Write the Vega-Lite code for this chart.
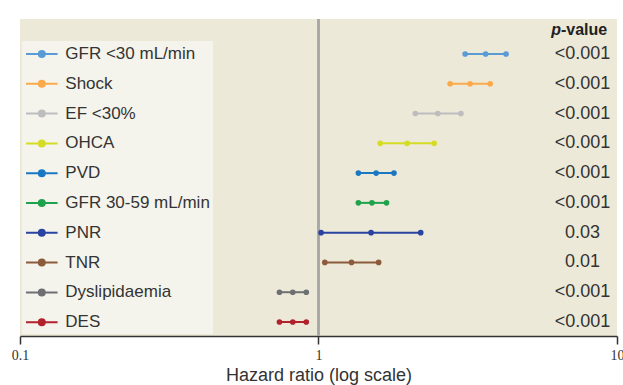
{
  "$schema": "https://vega.github.io/schema/vega-lite/v6.json",
  "width": 597,
  "height": 317,
  "autosize": {"type": "none"},
  "padding": {"left": 20, "top": 19, "right": 6, "bottom": 49},
  "background": "#ffffff",
  "config": {
    "view": {"fill": "#ece9d8", "stroke": null},
    "font": "Liberation Sans"
  },
  "data": {
    "values": [
      {"factor": "GFR <30 mL/min", "lo": 3.10, "est": 3.63, "hi": 4.25, "p": "<0.001"},
      {"factor": "Shock", "lo": 2.76, "est": 3.22, "hi": 3.76, "p": "<0.001"},
      {"factor": "EF <30%", "lo": 2.11, "est": 2.51, "hi": 3.00, "p": "<0.001"},
      {"factor": "OHCA", "lo": 1.61, "est": 1.98, "hi": 2.44, "p": "<0.001"},
      {"factor": "PVD", "lo": 1.36, "est": 1.56, "hi": 1.79, "p": "<0.001"},
      {"factor": "GFR 30-59 mL/min", "lo": 1.36, "est": 1.51, "hi": 1.69, "p": "<0.001"},
      {"factor": "PNR", "lo": 1.02, "est": 1.50, "hi": 2.20, "p": "0.03"},
      {"factor": "TNR", "lo": 1.05, "est": 1.29, "hi": 1.59, "p": "0.01"},
      {"factor": "Dyslipidaemia", "lo": 0.74, "est": 0.82, "hi": 0.91, "p": "<0.001"},
      {"factor": "DES", "lo": 0.74, "est": 0.82, "hi": 0.91, "p": "<0.001"}
    ]
  },
  "encoding": {
    "y": {
      "field": "factor",
      "type": "ordinal",
      "scale": {
        "type": "point",
        "domain": ["GFR <30 mL/min", "Shock", "EF <30%", "OHCA", "PVD", "GFR 30-59 mL/min", "PNR", "TNR", "Dyslipidaemia", "DES"],
        "padding": 0.8225,
        "align": 0.714,
        "round": false
      },
      "axis": null
    }
  },
  "layer": [
    {
      "mark": {"type": "rule", "color": "#a6a6a6", "strokeWidth": 1.5},
      "encoding": {
        "x": {"datum": 1, "type": "quantitative"},
        "y": null
      }
    },
    {
      "mark": {"type": "rule", "strokeWidth": 2},
      "encoding": {
        "x": {"field": "lo", "type": "quantitative"},
        "x2": {"field": "hi"},
        "color": {"field": "factor", "type": "nominal"}
      }
    },
    {
      "transform": [{"fold": ["lo", "est", "hi"], "as": ["kind", "hr"]}],
      "mark": {"type": "point", "filled": true, "opacity": 1, "size": 32},
      "encoding": {
        "x": {
          "field": "hr",
          "type": "quantitative",
          "scale": {"type": "log", "domain": [0.1, 10], "nice": false},
          "axis": {
            "values": [0.1, 1, 10],
            "format": "~g",
            "grid": false,
            "title": "Hazard ratio (log scale)",
            "titleFont": "Liberation Sans",
            "titleFontSize": 18,
            "titleFontWeight": "normal",
            "titleColor": "#333333",
            "titlePadding": 4,
            "labelFont": "Liberation Serif",
            "labelFontSize": 14,
            "labelColor": "#333333",
            "labelFlush": false,
            "labelPadding": 4,
            "tickSize": 8,
            "tickColor": "#333333",
            "tickWidth": 1.5,
            "domainColor": "#333333",
            "domainWidth": 1.5
          }
        },
        "color": {
          "field": "factor",
          "type": "nominal",
          "scale": {
            "domain": ["GFR <30 mL/min", "Shock", "EF <30%", "OHCA", "PVD", "GFR 30-59 mL/min", "PNR", "TNR", "Dyslipidaemia", "DES"],
            "range": ["#5b9bd5", "#fbaa4b", "#bdbdc0", "#d5dc26", "#1a78c2", "#1ea24c", "#2b43a0", "#8c5b3b", "#6e6f73", "#b2222c"]
          },
          "legend": {
            "title": null,
            "orient": "none",
            "legendX": 2,
            "legendY": 22,
            "fillColor": "#f5f4ec",
            "padding": 3,
            "rowPadding": 11.8,
            "symbolType": "M-1,0H2.51M0.423,0a0.333,0.333 0 1,0 0.666,0a0.333,0.333 0 1,0 -0.666,0Z",
            "symbolSize": 324,
            "symbolStrokeWidth": 2,
            "labelFont": "Liberation Sans",
            "labelFontSize": 17,
            "labelColor": "#333333",
            "labelOffset": 20.3,
            "labelLimit": 300
          }
        }
      }
    },
    {
      "mark": {"type": "text", "font": "Liberation Sans", "fontSize": 18, "color": "#333333", "align": "center", "baseline": "middle"},
      "encoding": {
        "x": {"datum": 7.66, "type": "quantitative"},
        "text": {"field": "p"}
      }
    },
    {
      "transform": [{"filter": "datum.factor === 'GFR <30 mL/min'"}],
      "mark": {"type": "text", "text": "p", "font": "Liberation Sans", "fontSize": 16, "fontWeight": "bold", "fontStyle": "italic", "color": "#222222", "align": "right", "baseline": "middle", "dy": -24},
      "encoding": {
        "x": {"datum": 6.49, "type": "quantitative"}
      }
    },
    {
      "transform": [{"filter": "datum.factor === 'GFR <30 mL/min'"}],
      "mark": {"type": "text", "text": "-value", "font": "Liberation Sans", "fontSize": 16, "fontWeight": "bold", "color": "#222222", "align": "left", "baseline": "middle", "dy": -24},
      "encoding": {
        "x": {"datum": 6.49, "type": "quantitative"}
      }
    }
  ]
}
